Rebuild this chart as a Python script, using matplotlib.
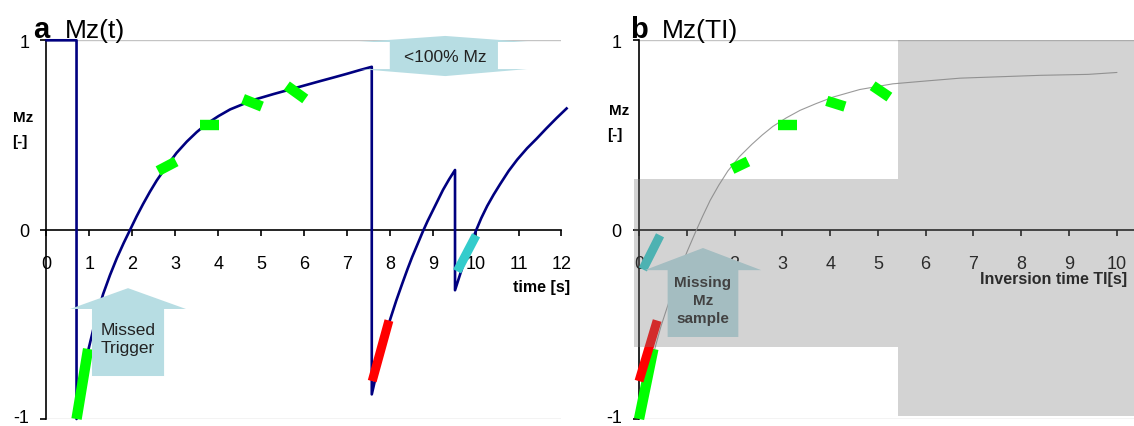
import numpy as np
import matplotlib.pyplot as plt
import matplotlib.transforms as mtransforms
from matplotlib.patches import Polygon, Rectangle

plt.rcParams['font.family'] = ['Liberation Sans', 'DejaVu Sans']

# DATA
# panel a: Mz(t), three inversion recoveries with two vertical jumps
time_s = [0, 0.70, 0.70, 0.84, 0.97, 1.15, 1.32, 1.48, 1.64, 1.80, 1.95, 2.10, 2.25, 2.41,
          2.57, 2.80, 3.03, 3.27, 3.50, 3.74, 4.01, 4.28, 4.55, 4.82, 5.05, 5.29, 5.56,
          5.83, 6.10, 6.37, 6.68, 7.0, 7.29, 7.58,
          7.58, 7.69, 7.79, 7.90, 8.0, 8.15, 8.29, 8.41, 8.52, 8.65, 8.77, 8.88, 9.0,
          9.12, 9.24, 9.38, 9.52,
          9.52, 9.64, 9.75, 9.88, 10.0, 10.13, 10.27, 10.42, 10.57, 10.77, 10.97, 11.2,
          11.42, 11.65, 11.89, 12.12]
mz_time = [1, 1, -1, -0.80, -0.64, -0.47, -0.34, -0.24, -0.15, -0.07, 0.0, 0.07, 0.135, 0.20,
           0.26, 0.335, 0.405, 0.465, 0.515, 0.56, 0.60, 0.635, 0.66, 0.685, 0.70, 0.716, 0.733,
           0.75, 0.767, 0.784, 0.803, 0.823, 0.842, 0.86,
           -0.87, -0.76, -0.66, -0.565, -0.48, -0.375, -0.285, -0.21, -0.145, -0.075, -0.01, 0.045, 0.10,
           0.155, 0.21, 0.265, 0.315,
           -0.32, -0.235, -0.16, -0.08, -0.01, 0.06, 0.125, 0.185, 0.24, 0.31, 0.37, 0.43,
           0.48, 0.535, 0.59, 0.64]

# measured samples in panel a (start, end of each short stroke)
green_t = [(0.70, 0.97), (2.60, 3.02), (3.58, 4.02), (4.58, 5.02), (5.60, 6.03)]
green_mz = [(-1.0, -0.63), (0.31, 0.36), (0.55, 0.55), (0.69, 0.65), (0.76, 0.69)]
red_t = (7.59, 7.98)
red_mz = (-0.80, -0.48)
cyan_t = (9.57, 10.01)
cyan_mz = (-0.22, -0.03)

# panel b: Mz(TI) reference curve
ti_s = [0, 0.15, 0.34, 0.46, 0.59, 0.80, 1.0, 1.17, 1.33, 1.49, 1.67, 1.86, 2.10, 2.36,
        2.58, 2.80, 3.08, 3.37, 3.70, 4.06, 4.62, 5.31, 6.0, 6.72, 8.4, 9.4, 10.0]
mz_ti = [-1.0, -0.82, -0.62, -0.51, -0.41, -0.255, -0.12, -0.02, 0.07, 0.155, 0.235, 0.31,
         0.385, 0.45, 0.50, 0.545, 0.59, 0.63, 0.665, 0.70, 0.74, 0.77, 0.785, 0.80, 0.815,
         0.82, 0.83]

green_ti = [(0.0, 0.30), (1.95, 2.28), (2.91, 3.31), (3.93, 4.31), (4.89, 5.24)]
green_mzb = [(-1.0, -0.63), (0.32, 0.36), (0.55, 0.55), (0.68, 0.65), (0.76, 0.70)]
red_ti = (0.0, 0.38)
red_mzb = (-0.80, -0.48)
cyan_ti = (0.08, 0.44)
cyan_mzb = (-0.21, -0.03)

ticks_a = list(range(13))
ticks_b = list(range(11))
yticks = [-1, 0, 1]
ytick_labels = ['-1', '0', '1']

ARROW = '#b7dde3'
TEXT = '#222222'


def setupAxes(ax, xmax, xticks):
    # axes crossing at zero, grey lines at +1 / -1
    ax.set_xlim(0, xmax)
    ax.set_ylim(-1, 1)
    ax.spines['top'].set_visible(False)
    ax.spines['right'].set_visible(False)
    ax.spines['bottom'].set_position(('data', 0))
    ax.spines['bottom'].set_linewidth(1.2)
    ax.spines['left'].set_linewidth(1.2)
    ax.set_xticks(xticks)
    ax.set_yticks(yticks)
    ax.set_yticklabels(ytick_labels)
    ax.tick_params(axis='x', direction='out', length=4.5, width=1.2, pad=14, labelsize=13)
    ax.tick_params(axis='y', direction='out', length=4.5, width=1.2, pad=8, labelsize=13)
    # lift the bottom label a touch so it stays inside the figure
    lbl = ax.get_yticklabels()[0]
    lbl.set_transform(lbl.get_transform() + mtransforms.ScaledTranslation(0, 3 / 100, fig.dpi_scale_trans))
    ax.axhline(1, color='#c4c4c4', lw=1, zorder=0.5)
    ax.axhline(-1, color='#c4c4c4', lw=1, zorder=0.5)
    ax.patch.set_visible(False)


def drawStrokes(ax, xs, ys, color, lw=7.5):
    for x, y in zip(xs, ys):
        ax.plot(x, y, color=color, lw=lw, solid_capstyle='butt', zorder=4, clip_on=False)


def upArrow(ax, xc, tip, base, bottom, head, shaft):
    pts = [(xc, tip), (xc + head, base), (xc + shaft, base), (xc + shaft, bottom),
           (xc - shaft, bottom), (xc - shaft, base), (xc - head, base)]
    ax.add_patch(Polygon(pts, closed=True, facecolor=ARROW, edgecolor='none', zorder=5, clip_on=False))


fig = plt.figure(figsize=(11.34, 4.27), dpi=100)
ax1 = fig.add_axes([0.0410, 0.0164, 0.4541, 0.8869])
ax2 = fig.add_axes([0.5635, 0.0164, 0.4365, 0.8869])

# ---- panel a ----
setupAxes(ax1, 12, ticks_a)
ax1.plot(time_s, mz_time, color='#000080', lw=1.9, zorder=3, clip_on=False)
drawStrokes(ax1, green_t, green_mz, '#00ff00')
drawStrokes(ax1, [red_t], [red_mz], '#ff0000', lw=6.5)
drawStrokes(ax1, [cyan_t], [cyan_mz], '#33cccc', lw=6.5)

upArrow(ax1, 1.90, -0.309, -0.419, -0.773, 1.35, 0.84)
ax1.text(1.90, -0.575, 'Missed\nTrigger', ha='center', va='center', fontsize=12.5,
         color=TEXT, linespacing=1.3, zorder=6)

# up/down arrow marking the incomplete recovery
dbl = [(9.29, 1.023), (11.20, 0.991), (10.52, 0.991), (10.52, 0.848), (11.20, 0.848),
       (9.29, 0.811), (7.30, 0.848), (8.0, 0.848), (8.0, 0.991), (7.30, 0.991)]
ax1.add_patch(Polygon(dbl, closed=True, facecolor=ARROW, edgecolor='none', zorder=5, clip_on=False))
ax1.text(9.29, 0.917, '<100% Mz', ha='center', va='center', fontsize=12.5, color=TEXT, zorder=6)

ax1.text(-0.31, 1.017, 'a', fontsize=21, fontweight='bold', va='baseline', ha='left')
ax1.text(0.43, 1.017, 'Mz(t)', fontsize=19, va='baseline', ha='left')
ax1.text(-0.55, 0.595, 'Mz', fontsize=11, fontweight='bold', ha='center', va='center')
ax1.text(-0.62, 0.468, '[-]', fontsize=11, fontweight='bold', ha='center', va='center')
ax1.text(12.2, -0.298, 'time [s]', fontsize=11.5, fontweight='bold', ha='right', va='center')

# ---- panel b ----
setupAxes(ax2, 10.36, ticks_b)
ax2.plot(ti_s, mz_ti, color='#9a9a9a', lw=0.8, zorder=3)
drawStrokes(ax2, green_ti, green_mzb, '#00ff00')
drawStrokes(ax2, [red_ti], [red_mzb], '#ff0000', lw=6.5)
drawStrokes(ax2, [cyan_ti], [cyan_mzb], '#33cccc', lw=6.5)

upArrow(ax2, 1.339, -0.097, -0.214, -0.567, 1.22, 0.74)
ax2.text(1.339, -0.372, 'Missing\nMz\nsample', ha='center', va='center', fontsize=11,
         fontweight='bold', color=TEXT, linespacing=1.35, zorder=6)

ax2.text(10.21, -0.26, 'Inversion time TI[s]', fontsize=11.5, fontweight='bold',
         ha='right', va='center', zorder=6)
ax2.text(-0.19, 1.017, 'b', fontsize=21, fontweight='bold', va='baseline', ha='left')
ax2.text(0.48, 1.017, 'Mz(TI)', fontsize=19, va='baseline', ha='left')
ax2.text(-0.42, 0.632, 'Mz', fontsize=11, fontweight='bold', ha='center', va='center')
ax2.text(-0.50, 0.505, '[-]', fontsize=11, fontweight='bold', ha='center', va='center')

# translucent grey boxes laid over everything in panel b
ax2.add_patch(Rectangle((-0.105, -0.62), 5.523, 0.887, facecolor='#808080', alpha=0.34,
                        edgecolor='none', zorder=10, clip_on=False))
ax2.add_patch(Rectangle((5.418, -0.984), 4.95, 1.984, facecolor='#808080', alpha=0.34,
                        edgecolor='none', zorder=10))

fig.savefig('out.png', dpi=100)
